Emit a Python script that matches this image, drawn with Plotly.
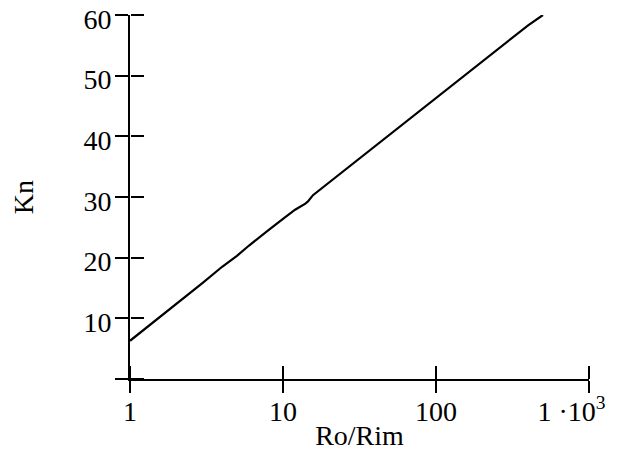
import plotly.graph_objects as go

ratio = [1, 1.5, 2, 3, 4, 4.6, 5, 6, 7, 8, 10, 12, 14, 14.6, 15.7, 20, 25, 30, 40, 50, 70, 100, 150, 200, 300, 400, 500]
kn = [6.3, 9.8, 12.3, 15.9, 18.5, 19.6, 20.3, 22.0, 23.4, 24.5, 26.4, 27.9, 28.9, 29.3, 30.3, 32.4, 34.3, 35.8, 38.4, 40.3, 43.2, 46.3, 49.8, 52.3, 55.8, 58.3, 60.0]

x_tickvals = [1, 10, 100, 1000]
x_ticktext = ["1", "10", "100", "1 ·10<sup>3</sup>\u2003\u00a0"]
y_tickvals = [0, 10, 20, 30, 40, 50, 60]
y_ticktext = ["", "10", "20", "30", "40", "50", "60"]

font = dict(family="Liberation Serif, Times New Roman, serif", size=28, color="black")

fig = go.Figure()
fig.add_trace(go.Scatter(x=ratio, y=kn, mode="lines",
                         line=dict(color="black", width=2.2), showlegend=False,
                         cliponaxis=False))
# invisible trace to activate overlay axes
fig.add_trace(go.Scatter(x=[1], y=[0], xaxis="x2", yaxis="y2", mode="markers",
                         marker=dict(opacity=0), showlegend=False, hoverinfo="skip"))

common = dict(showgrid=False, zeroline=False, linecolor="black", linewidth=2,
              tickcolor="black", tickwidth=2, automargin=False, ticklabeloverflow="allow")

# page body has an 8px margin, so the figure is offset by (8, 8)
fig.update_layout(
    width=611, height=451,
    margin=dict(l=122, r=30, t=7, b=80),
    plot_bgcolor="white", paper_bgcolor="white",
    font=font,
    xaxis=dict(type="log", range=[0, 3], domain=[0, 1], tickvals=x_tickvals, ticktext=x_ticktext,
               ticks="outside", ticklen=12, showline=True, tickfont=font,
               ticklabelstandoff=-6,
               title=dict(text="Ro/Rim", font=font, standoff=0), **common),
    yaxis=dict(range=[0, 60], domain=[0, 1], tickvals=y_tickvals, ticktext=y_ticktext,
               ticks="outside", ticklen=13, showline=True, tickfont=font,
               ticklabelshift=4, ticklabelstandoff=-2,
               title=dict(text="Kn", font=font, standoff=44), **common),
    xaxis2=dict(type="log", range=[0, 3], overlaying="x", side="top", anchor="free", position=0,
                tickvals=x_tickvals, showticklabels=False, ticks="outside", ticklen=13,
                showline=False, showgrid=False, zeroline=False, tickcolor="black", tickwidth=2,
                automargin=False),
    yaxis2=dict(range=[0, 60], overlaying="y", side="right", anchor="free", position=0,
                tickvals=y_tickvals, showticklabels=False, ticks="outside", ticklen=13,
                showline=False, showgrid=False, zeroline=False, tickcolor="black", tickwidth=2,
                automargin=False),
)

fig.write_html("out.html")
